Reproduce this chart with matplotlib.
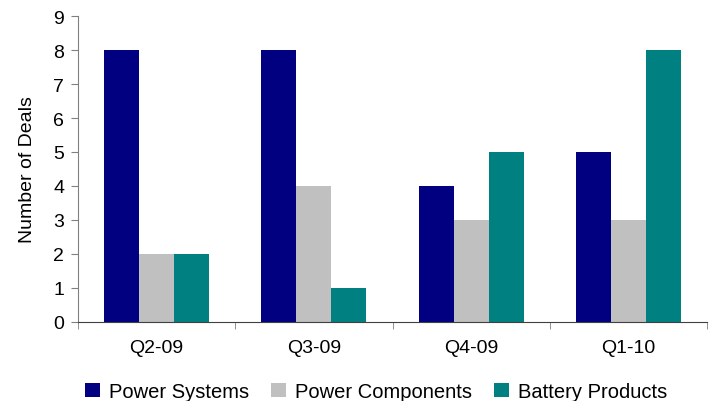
import matplotlib.pyplot as plt
import numpy as np

plt.rcParams["font.family"] = ["Liberation Sans", "DejaVu Sans"]

quarters = ["Q2-09", "Q3-09", "Q4-09", "Q1-10"]
power_systems = [8, 8, 4, 5]
power_components = [2, 4, 3, 3]
battery_products = [2, 1, 5, 8]

series = [
    ("Power Systems", power_systems, "#000080"),
    ("Power Components", power_components, "#C0C0C0"),
    ("Battery Products", battery_products, "#008080"),
]

fs = 14

fig = plt.figure(figsize=(7.14, 4.02), dpi=100)
ax = fig.add_axes([78 / 714, 1 - 323 / 402, 629 / 714, 306 / 402])

x = np.arange(len(quarters))
width = 0.223
for i, (label, vals, color) in enumerate(series):
    ax.bar(x + (i - 1) * width, vals, width, color=color, label=label)

ax.set_xlim(-0.5, len(quarters) - 0.5)
ax.set_ylim(0, 9)
ax.set_yticks(range(10))
ax.tick_params(axis="y", labelsize=fs, length=5, color="#808080", pad=5)

ax.set_xticks(x)
ax.set_xticklabels(quarters, fontsize=fs)
ax.tick_params(axis="x", length=0, pad=12)
ax.set_xticks(np.arange(len(quarters) + 1) - 0.5, minor=True)
ax.tick_params(axis="x", which="minor", length=5, color="#808080")

for side in ("top", "right"):
    ax.spines[side].set_visible(False)
ax.spines["left"].set_color("#808080")
ax.spines["bottom"].set_color("#404040")

ax.set_ylabel("Number of Deals", fontsize=fs, labelpad=12)

ax.legend(loc="upper center", bbox_to_anchor=(0.474, -0.17), ncol=3, frameon=False,
          fontsize=14.5, handlelength=0.75, handleheight=0.75, handletextpad=0.45,
          columnspacing=1.1, borderaxespad=0)

fig.savefig("out.png", dpi=100)
